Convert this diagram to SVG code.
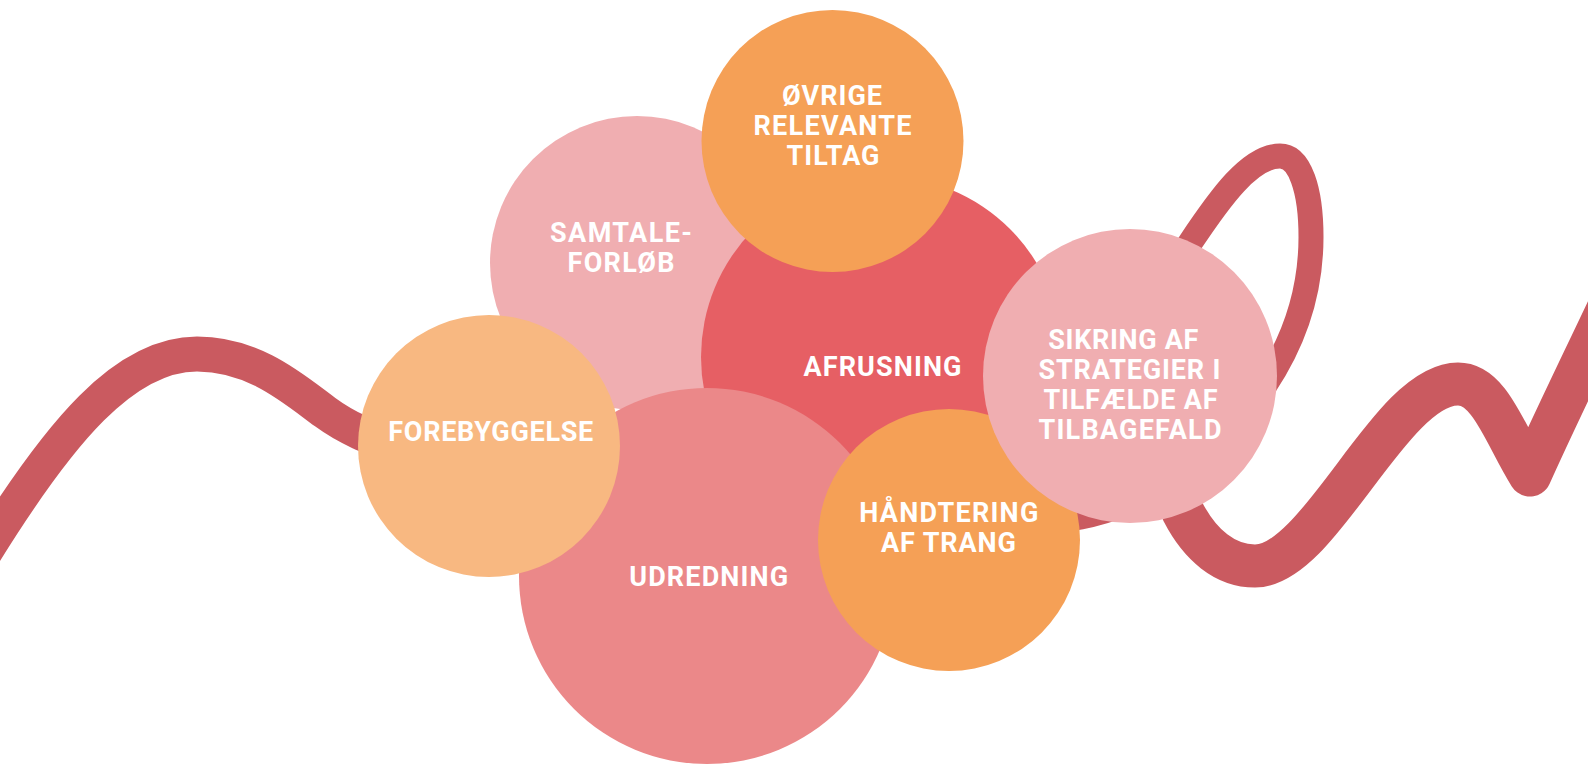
<svg xmlns="http://www.w3.org/2000/svg" width="1588" height="765" viewBox="0 0 1588 765">
<style>
.wave{fill:none;stroke:#ca5a60;stroke-linecap:butt;stroke-linejoin:round}
.lbl{font-family:Roboto,"Open Sans","Liberation Sans",sans-serif;font-weight:700;font-size:27px;fill:#ffffff;text-anchor:middle}
</style>
<rect width="1588" height="765" fill="#ffffff"/>
<g id="connectors">
<path class="wave" stroke-width="35" d="M -20,560 C 60,430 125,354 197,354 C 255,354 295,390 325,412 C 355,434 380,440 420,455 C 600,520 900,545 1080,512 C 1110,506 1130,498 1150,480"/>
<path class="wave" stroke-width="25" d="M 1140,330 C 1160,295 1175,265 1190,243 C 1220,198 1250,156 1280,156 C 1300,156 1311,190 1311,237 C 1311,290 1295,340 1265,385 C 1245,415 1230,440 1215,460"/>
<path class="wave" stroke-width="43" d="M 1225,420 C 1190,455 1172,485 1183,512 C 1200,545 1225,566 1255,566 C 1320,566 1390,384 1458,384 C 1490,384 1505,435 1530,475 C 1550,430 1572,385 1610,305"/>
</g>
<g id="samtaleforlob">
<circle cx="637" cy="263" r="147" fill="#f0aeb1"/>
<text class="lbl" x="621" y="242" textLength="142" lengthAdjust="spacing">SAMTALE-</text>
<text class="lbl" x="621" y="272" textLength="107" lengthAdjust="spacing">FORLØB</text>
</g>
<g id="afrusning">
<circle cx="882" cy="357" r="181" fill="#e65f64"/>
<text class="lbl" x="882.5" y="376" textLength="158" lengthAdjust="spacing">AFRUSNING</text>
</g>
<g id="ovrige">
<circle cx="832.5" cy="141" r="131" fill="#f5a056"/>
<text class="lbl" x="832" y="105" textLength="100" lengthAdjust="spacing">ØVRIGE</text>
<text class="lbl" x="832.5" y="135" textLength="158" lengthAdjust="spacing">RELEVANTE</text>
<text class="lbl" x="833" y="165" textLength="93" lengthAdjust="spacing">TILTAG</text>
</g>
<g id="udredning">
<circle cx="707" cy="576" r="188" fill="#eb8889"/>
<text class="lbl" x="708.7" y="586" textLength="159" lengthAdjust="spacing">UDREDNING</text>
</g>
<g id="forebyggelse">
<circle cx="489" cy="446" r="131" fill="#f8b881"/>
<text class="lbl" x="490.8" y="441" textLength="205" lengthAdjust="spacing">FOREBYGGELSE</text>
</g>
<g id="handtering">
<circle cx="949" cy="540" r="131" fill="#f5a056"/>
<text class="lbl" x="948.8" y="522" textLength="179" lengthAdjust="spacing">HÅNDTERING</text>
<text class="lbl" x="948.5" y="552" textLength="135" lengthAdjust="spacing">AF TRANG</text>
</g>
<g id="sikring">
<circle cx="1130" cy="376" r="147" fill="#f0aeb1"/>
<text class="lbl" x="1123.3" y="349" textLength="150" lengthAdjust="spacing">SIKRING AF</text>
<text class="lbl" x="1129.5" y="379" textLength="182" lengthAdjust="spacing">STRATEGIER I</text>
<text class="lbl" x="1130.5" y="409" textLength="174" lengthAdjust="spacing">TILFÆLDE AF</text>
<text class="lbl" x="1130" y="439" textLength="183" lengthAdjust="spacing">TILBAGEFALD</text>
</g>
</svg>
